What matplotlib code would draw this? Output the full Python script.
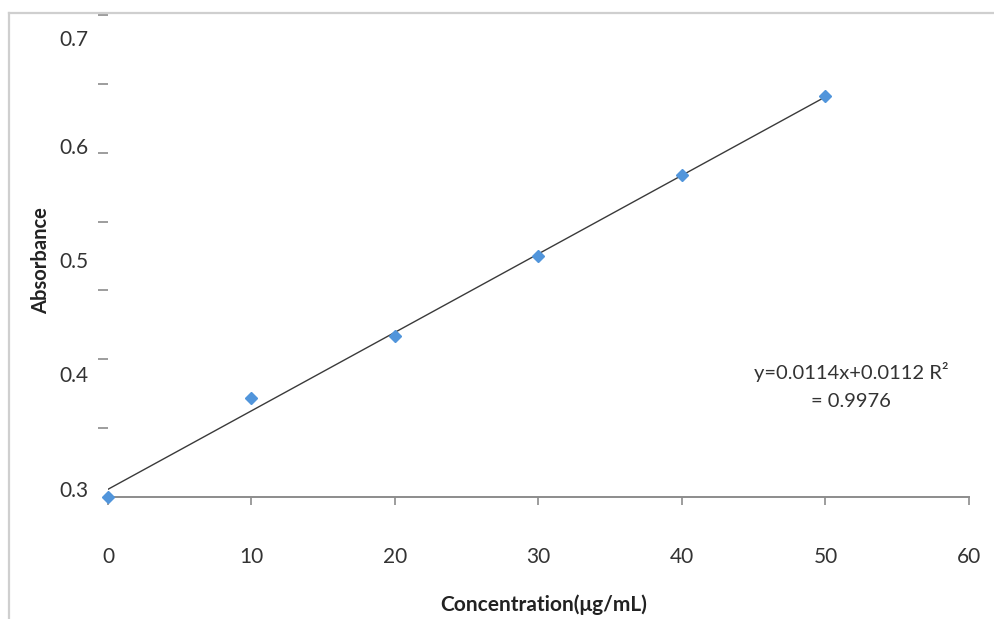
import numpy as np
import matplotlib
matplotlib.use("Agg")
import matplotlib.pyplot as plt
from matplotlib.lines import Line2D

plt.rcParams['font.family'] = ['Lato', 'DejaVu Sans']

# calibration data
conc = [0, 10, 20, 30, 40, 50]
absorb = [0.0, 0.144, 0.234, 0.350, 0.468, 0.582]

# linear fit shown on chart
slope = 0.0114
intercept = 0.0112
eq_text = "y=0.0114x+0.0112 R\u00b2\n= 0.9976"

xticks = [0, 10, 20, 30, 40, 50, 60]
yticks = [0.1, 0.2, 0.3, 0.4, 0.5, 0.6, 0.7]
# printed y labels (they sit off the tick marks in the original)
ylab_text = ['0.3', '0.4', '0.5', '0.6', '0.7']
ylab_pos = [0.009, 0.176, 0.341, 0.507, 0.664]

fig = plt.figure(figsize=(9.95, 6.19), dpi=100)
ax = fig.add_axes([108/995, 1-497/619, 861/995, 482/619])

xfit = np.array([conc[0], conc[-1]])
ax.plot(xfit, slope*xfit + intercept, color='#3a3a3a', lw=1.0, zorder=2)
ax.plot(conc, absorb, ls='none', marker='D', ms=6.5, color='#5195db',
        mec='#5195db', zorder=3, clip_on=False)

ax.set_xlim(0, 60)
ax.set_ylim(0, 0.7)
ax.set_xticks(xticks)
ax.set_xticklabels([str(t) for t in xticks], fontsize=15, color='#333333')
ax.tick_params(axis='x', direction='out', length=6, width=1.2, color='#8c8c8c', pad=30)
ax.set_yticks(yticks)
ax.set_yticklabels([])
ax.tick_params(axis='y', direction='out', length=7, width=1.2, color='#8c8c8c')

for s in ['top', 'right', 'left']:
    ax.spines[s].set_visible(False)
ax.spines['bottom'].set_color('#8c8c8c')
ax.spines['bottom'].set_linewidth(1.4)

for lab, pos in zip(ylab_text, ylab_pos):
    ax.text(-0.023, pos, lab, transform=ax.get_yaxis_transform(), ha='right',
            va='center', fontsize=15, color='#333333')

ax.set_xlabel('Concentration(\u03bcg/mL)', fontsize=15, fontweight='bold', color='#222222')
ax.xaxis.set_label_coords(0.506, -0.203)
ax.set_ylabel('Absorbance', fontsize=14.5, fontweight='bold', color='#222222')
ax.yaxis.set_label_coords(-0.066, 0.49)

ax.text(0.863, 0.23, eq_text, transform=ax.transAxes, ha='center', va='center',
        fontsize=14.5, color='#333333', linespacing=1.75)

# outer chart-area border (only top and left visible)
fig.add_artist(Line2D([9/995, 1], [1-13/619, 1-13/619], color='#cfcfcf', lw=1.6))
fig.add_artist(Line2D([9/995, 9/995], [0, 1-13/619], color='#cfcfcf', lw=1.6))

fig.savefig('out.png', dpi=100)
